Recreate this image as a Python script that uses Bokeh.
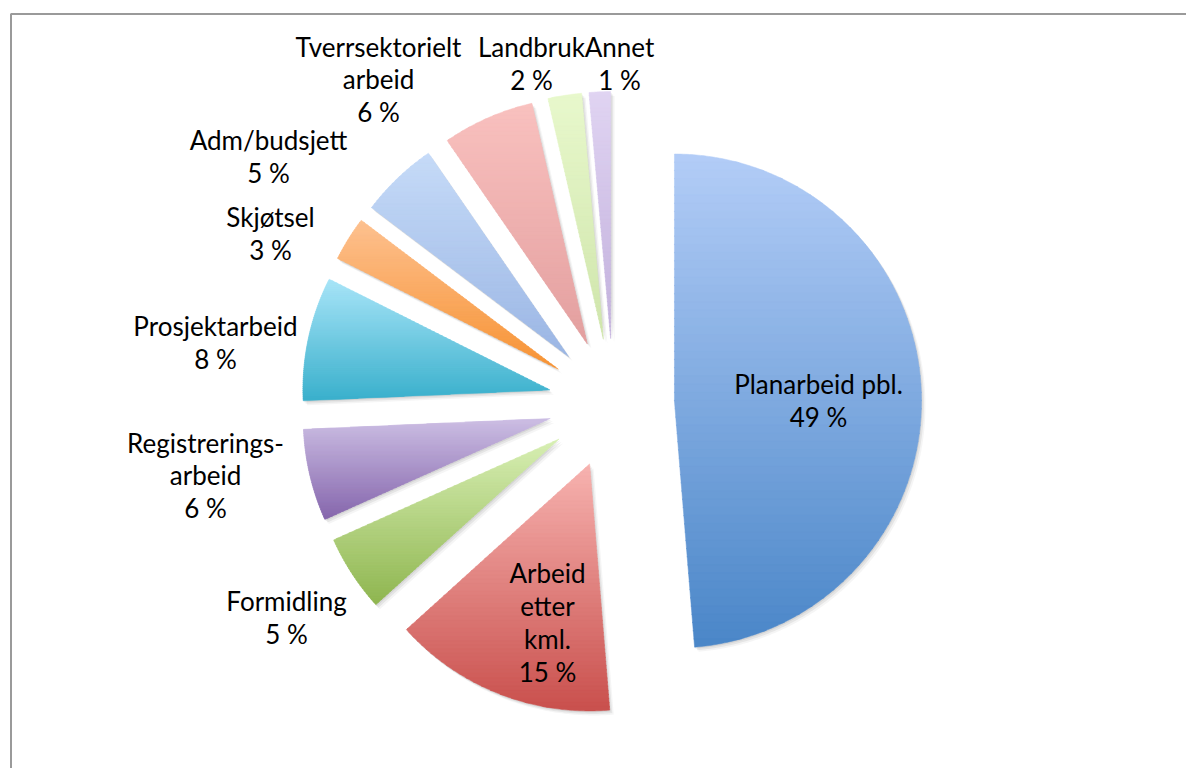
import numpy as np
from bokeh.plotting import figure
from bokeh.models import ColumnDataSource, Range1d
from bokeh.core.properties import value
from bokeh.embed import file_html
from bokeh.resources import INLINE

# ---------------- data ----------------
categories = ["Planarbeid pbl.", "Arbeid etter kml.", "Formidling", "Registrerings-arbeid",
              "Prosjektarbeid", "Skjøtsel", "Adm/budsjett", "Tverrsektorielt arbeid",
              "Landbruk", "Annet"]
shares = [48.7, 14.6, 5.0, 6.0, 8.1, 2.9, 5.1, 6.0, 2.2, 1.4]
label_names = ["Planarbeid pbl.", "Arbeid\netter\nkml.", "Formidling", "Registrerings-\narbeid",
               "Prosjektarbeid", "Skjøtsel", "Adm/budsjett", "Tverrsektorielt\narbeid",
               "Landbruk", "Annet"]
pct_labels = ["49 %", "15 %", "5 %", "6 %", "8 %", "3 %", "5 %", "6 %", "2 %", "1 %"]

# ---------------- style / layout ----------------
top_colors = ["#b3cdf7", "#f7b3b0", "#d8efb4", "#cdbfe4", "#a9e5f8",
              "#fdc190", "#c6dbf8", "#f9c1bf", "#e8f8cc", "#e0d4f2"]
bot_colors = ["#4a86c8", "#c9504d", "#8fb650", "#8667ad", "#3ab0cc",
              "#f79334", "#9bb6e4", "#e39f9f", "#cfe5ab", "#c2b0dc"]
explode = [61, 65, 65, 65, 65, 65, 65, 65, 65, 65]
# label block centres (screen px)
label_pos = [(818, 400), (547, 622), (286, 617), (205, 475), (215, 342),
             (270, 233), (268, 156), (378, 79), (531, 63), (619, 63)]

W, H = 1186, 768
def sy(y):  # screen y -> data y
    return 784 - y

cx, cy = 613.0, sy(403.0)
R = 247.0

def hex2rgb(h):
    h = h.lstrip("#")
    return np.array([int(h[i:i + 2], 16) for i in (0, 2, 4)], dtype=float)

def rgb2hex(c):
    c = np.clip(np.round(c), 0, 255).astype(int)
    return "#%02x%02x%02x" % tuple(c)

def clip_poly(poly, keep, inter):
    out = []
    n = len(poly)
    for i in range(n):
        cur = poly[i]
        prev = poly[i - 1]
        if keep(cur):
            if not keep(prev):
                out.append(inter(prev, cur))
            out.append(cur)
        elif keep(prev):
            out.append(inter(prev, cur))
    return out

def yint(yc):
    def f(p, q):
        t = (yc - p[1]) / (q[1] - p[1])
        return (p[0] + t * (q[0] - p[0]), yc)
    return f

total = float(sum(shares))
bounds = np.concatenate([[0.0], np.cumsum(shares)]) / total * 2 * np.pi

band_xs, band_ys, band_col = [], [], []
sh_xs, sh_ys = [], []
NB = 60
for i, v in enumerate(shares):
    a0, a1 = bounds[i], bounds[i + 1]
    mid = 0.5 * (a0 + a1)
    tx = cx + explode[i] * np.sin(mid)
    ty = cy + explode[i] * np.cos(mid)
    npts = max(6, int(np.degrees(a1 - a0) * 2))
    th = np.linspace(a0, a1, npts)
    poly = [(tx, ty)] + [(tx + R * np.sin(t), ty + R * np.cos(t)) for t in th]
    sh_xs.append([p[0] for p in poly])
    sh_ys.append([p[1] for p in poly])
    ys = [p[1] for p in poly]
    ymax, ymin = max(ys), min(ys)
    h = ymax - ymin
    ctop, cbot = hex2rgb(top_colors[i]), hex2rgb(bot_colors[i])
    for k in range(NB):
        yhi = ymax - k * h / NB + 0.4
        ylo = ymax - (k + 1) * h / NB - 0.4
        pp = clip_poly(poly, lambda p: p[1] <= yhi, yint(yhi))
        if len(pp) < 3:
            continue
        pp = clip_poly(pp, lambda p: p[1] >= ylo, yint(ylo))
        if len(pp) < 3:
            continue
        t = (k + 0.5) / NB
        band_xs.append([p[0] for p in pp])
        band_ys.append([p[1] for p in pp])
        band_col.append(rgb2hex(ctop + (cbot - ctop) * t))

p = figure(width=W, height=H, output_backend="svg", toolbar_location=None,
           x_range=Range1d(0, W), y_range=Range1d(784 - H, 784),
           min_border=0, border_fill_color="white", background_fill_color="white")
p.axis.visible = False
p.grid.visible = False
p.outline_line_color = None

# chart border (extends past the visible window on right/bottom)
p.quad(left=[10.5], right=[1400], top=[sy(13.5)], bottom=[sy(1000)],
       fill_color=None, line_color="#9a9a9a", line_width=2)

# soft shadows
for dx, dy, a in [(1.0, -1.5, 0.10), (2.5, -3.0, 0.09), (4.0, -4.5, 0.06)]:
    p.patches(xs=[[x + dx for x in xx] for xx in sh_xs],
              ys=[[y + dy for y in yy] for yy in sh_ys],
              fill_color="#505050", fill_alpha=a, line_color=None)

src = ColumnDataSource(dict(xs=band_xs, ys=band_ys, c=band_col))
p.patches(xs="xs", ys="ys", source=src, fill_color="c", line_color="c", line_width=0.5)

texts = [f"{n}\n{pc}" for n, pc in zip(label_names, pct_labels)]
tsrc = ColumnDataSource(dict(x=[q[0] for q in label_pos], y=[sy(q[1]) for q in label_pos], t=texts))
p.text(x="x", y="y", text="t", source=tsrc, text_align="center", text_baseline="middle",
       text_font=value("Lato"), text_font_size="26px", text_color="#000000",
       text_line_height=1.03)

open("out.html", "w").write(file_html(p, INLINE))
